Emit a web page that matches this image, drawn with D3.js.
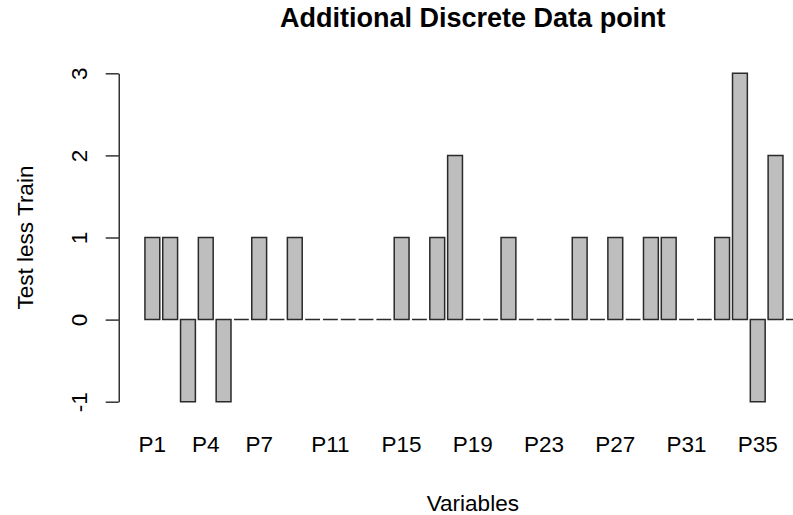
<!DOCTYPE html>
<html>
<head>
  <meta charset="utf-8">
  <title>Additional Discrete Data point</title>
  <script src="https://d3js.org/d3.v7.min.js"></script>
  <style>
    body { margin: 0; background: #fff; }
    text { font-family: "Liberation Sans", Arial, sans-serif; fill: #000; }
  </style>
</head>
<body>
  <svg id="chart"></svg>

  <script>
    // data
    const variables = ["P1","P2","P3","P4","P5","P6","P7","P8","P9","P10",
                       "P11","P12","P13","P14","P15","P16","P17","P18","P19","P20",
                       "P21","P22","P23","P24","P25","P26","P27","P28","P29","P30",
                       "P31","P32","P33","P34","P35","P36","P37"];
    const diffs = [1, 1, -1, 1, -1, 0, 1, 0, 1, 0,
                   0, 0, 0, 0, 1, 0, 1, 2, 0, 0,
                   1, 0, 0, 0, 1, 0, 1, 0, 1, 1,
                   0, 0, 1, 3, -1, 2, 0];
    // names R managed to print under the bars
    const shownNames = ["P1","P4","P7","P11","P15","P19","P23","P27","P31","P35"];
    const yTicks = [-1, 0, 1, 2, 3];

    const width = 793, height = 515;
    const n = variables.length;

    const svg = d3.select("#chart")
      .attr("width", width)
      .attr("height", height);

    // user coordinates like R barplot: bars of width 1, space 0.2, 4% padding
    const span = 1.2 * n - 0.2;
    const xUser = d3.scaleLinear()
      .domain([0.2 - 0.04 * span, 1.2 * n + 0.04 * span])
      .range([118.7, 827]);

    const x = d3.scaleBand()
      .domain(variables)
      .range([xUser(0.1), xUser(0.1 + 1.2 * n)])
      .paddingInner(1 / 6)
      .paddingOuter(1 / 12);

    const y = d3.scaleLinear()
      .domain([-1.16, 3.16])
      .range([414.8, 60.2]);

    // bars (paths so zero-height bars still show as a segment)
    svg.append("g")
      .selectAll("path")
      .data(variables.map((v, i) => ({ name: v, value: diffs[i] })))
      .join("path")
      .attr("d", d => {
        const x0 = x(d.name), w = x.bandwidth();
        return `M${x0},${y(0)}H${x0 + w}V${y(d.value)}H${x0}Z`;
      })
      .attr("fill", "#bebebe")
      .attr("stroke", "#2a2a2a")
      .attr("stroke-width", 1.5);

    // y axis, only over the tick range
    const yAxisScale = y.copy().domain([-1, 3]).range([y(-1), y(3)]);
    const yAxis = svg.append("g")
      .attr("transform", `translate(${xUser.range()[0]},0)`)
      .call(d3.axisLeft(yAxisScale).tickValues(yTicks).tickSize(13).tickSizeOuter(0).tickFormat(d => String(d)));

    yAxis.select(".domain").attr("stroke", "#000").attr("stroke-width", 1.2);
    yAxis.selectAll(".tick line").attr("stroke", "#000").attr("stroke-width", 1.2);
    yAxis.selectAll(".tick text")
      .attr("x", null)
      .attr("dy", null)
      .attr("transform", "translate(-32,0) rotate(-90)")
      .attr("text-anchor", "middle")
      .style("font-size", "22.5px")
      .style("font-family", "'Liberation Sans', Arial, sans-serif")
      .attr("fill", "#000");

    // bar names
    svg.append("g")
      .selectAll("text")
      .data(shownNames)
      .join("text")
      .attr("x", d => x(d) + x.bandwidth() / 2)
      .attr("y", 452)
      .attr("text-anchor", "middle")
      .style("font-size", "22.5px")
      .text(d => d);

    const midX = (xUser.range()[0] + xUser.range()[1]) / 2;

    // title
    svg.append("text")
      .attr("x", midX)
      .attr("y", 27)
      .attr("text-anchor", "middle")
      .style("font-size", "27px")
      .style("font-weight", "bold")
      .text("Additional Discrete Data point");

    // axis titles
    svg.append("text")
      .attr("x", midX)
      .attr("y", 511)
      .attr("text-anchor", "middle")
      .style("font-size", "22.5px")
      .text("Variables");

    svg.append("text")
      .attr("transform", `translate(33,${(y.range()[0] + y.range()[1]) / 2}) rotate(-90)`)
      .attr("text-anchor", "middle")
      .style("font-size", "22.5px")
      .text("Test less Train");
  </script>
</body>
</html>
